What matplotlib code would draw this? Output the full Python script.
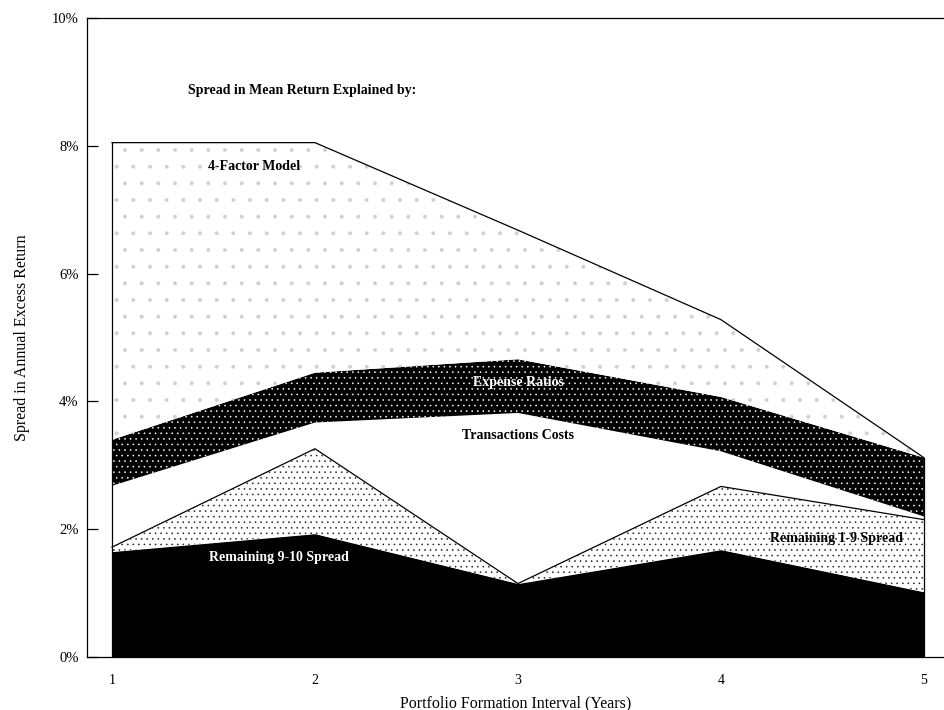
import matplotlib
matplotlib.use("Agg")
import matplotlib.pyplot as plt
import numpy as np

# portfolio formation interval (years)
years = [1, 2, 3, 4, 5]
year_labels = ["1", "2", "3", "4", "5"]

# contribution of each piece to the spread (in %), bottom to top
rem_9_10 = [1.65, 1.93, 1.15, 1.68, 1.02]
rem_1_9 = [0.07, 1.33, 0.00, 0.99, 1.13]
trans_costs = [0.96, 0.41, 2.67, 0.55, 0.05]
expense = [0.72, 0.78, 0.84, 0.85, 0.92]
four_factor = [4.65, 3.60, 2.02, 1.21, 0.00]

y_ticks = [0, 2, 4, 6, 8, 10]
y_tick_labels = ["0%", "2%", "4%", "6%", "8%", "10%"]

plt.rcParams["font.family"] = ["Liberation Serif", "DejaVu Serif"]
plt.rcParams["hatch.linewidth"] = 0.4

fig = plt.figure(figsize=(9.44, 7.10), dpi=100)
ax = fig.add_axes([0.0922, 0.0746, 0.9078, 0.90])

layers = np.cumsum(np.array([rem_9_10, rem_1_9, trans_costs, expense, four_factor]), axis=0)
base = np.zeros(len(years))

# 각 층: (face, hatch, hatch colour)
styles = [
    ("black", None, "black"),
    ("white", "...", "#222222"),
    ("white", None, "white"),
    ("black", "...", "white"),
    ("white", ".", "#d0d0d0"),
]
lower = base
for top, (fc, hatch, hc) in zip(layers, styles):
    ax.fill_between(years, lower, top, facecolor=fc, edgecolor=hc, hatch=hatch, linewidth=0)
    lower = top

# outlines of the light areas
ax.plot(years, layers[1], color="black", linewidth=0.9)
ax.plot(years, layers[4], color="black", linewidth=0.9)
ax.plot([years[0], years[0]], [0, layers[4][0]], color="black", linewidth=0.9)
ax.plot([years[-1], years[-1]], [0, layers[4][-1]], color="black", linewidth=0.9)

# labels inside the chart
ax.text(1.374, 8.87, "Spread in Mean Return Explained by:", fontsize=10, fontweight="bold", ha="left", va="center")
ax.text(1.70, 7.68, "4-Factor Model", fontsize=10, fontweight="bold", ha="center", va="center")
ax.text(3.0, 4.29, "Expense Ratios", fontsize=10, fontweight="bold", color="white", ha="center", va="center")
ax.text(3.0, 3.46, "Transactions Costs", fontsize=10, fontweight="bold", ha="center", va="center")
ax.text(1.82, 1.56, "Remaining 9-10 Spread", fontsize=10, fontweight="bold", color="white", ha="center", va="center")
ax.text(4.57, 1.85, "Remaining 1-9 Spread", fontsize=10, fontweight="bold", ha="center", va="center")

ax.set_xlim(0.877, 5.099)
ax.set_ylim(0, 10)
ax.set_xticks(years)
ax.set_xticklabels(year_labels, fontsize=10)
ax.set_yticks(y_ticks)
ax.set_yticklabels(y_tick_labels, fontsize=10.5)
ax.tick_params(axis="y", direction="in", length=8, width=0.9, pad=6)
ax.tick_params(axis="x", length=0, pad=12)
ax.spines["right"].set_visible(False)
for s in ["left", "bottom", "top"]:
    ax.spines[s].set_linewidth(0.9)

ax.set_xlabel("Portfolio Formation Interval (Years)", fontsize=11.5, labelpad=6)
ax.set_ylabel("Spread in Annual Excess Return", fontsize=11.5, labelpad=16)

fig.savefig("out.png", dpi=100)
plt.close(fig)
